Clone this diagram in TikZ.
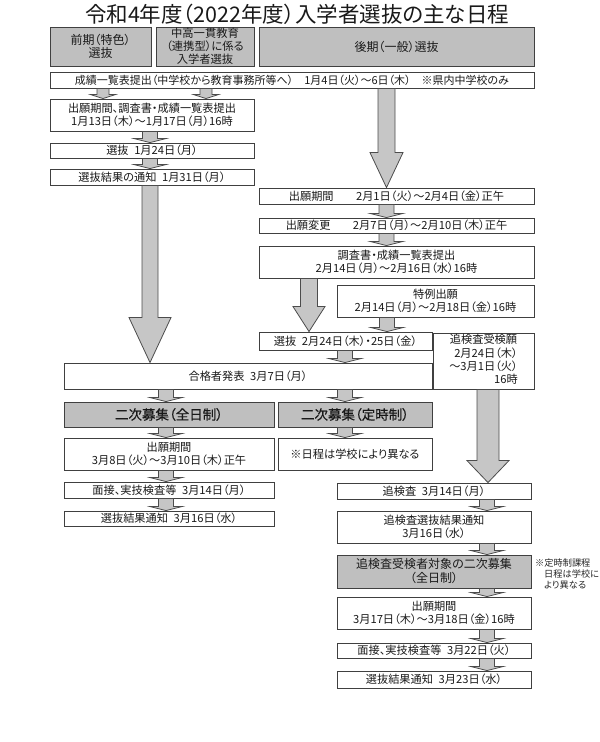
\documentclass[tikz,border=0pt]{standalone}
\usepackage{fontspec}
\setmainfont[RawFeature=+palt]{Noto Sans CJK JP}
\newfontfamily\heavyjp[RawFeature=+palt,FakeBold=0.4]{Noto Sans CJK JP}
\usetikzlibrary{calc}
\tikzset{
  plainbox/.style={draw=black!75, line width=0.9pt, fill=white, inner sep=0pt, align=center,
    text=black!90, font=\fontsize{11.2}{13}\selectfont},
  graybox/.style={plainbox, fill=gray!50},
  headbox/.style={graybox, font=\fontsize{12}{13.5}\selectfont},
  bigbox/.style={graybox, font=\heavyjp\fontsize{13.5}{15}\selectfont},
  blk/.style={draw=black!70, line width=0.8pt, fill=gray!45, line join=miter},
}
\newcommand\mkbox[7]{\node[#6, minimum width={#4pt-#2pt}, minimum height={#5pt-#3pt}] (#1) at ({(#2+#4)/2},{(#3+#5)/2}) {#7};}
% #1 from, #2 to, #3 x, #4 stem half, #5 head half, #6 head depth
\newcommand\flowarrow[6]{%
  \draw[blk] let \p1=(#1.south), \p2=(#2.north) in
   (#3pt-#4pt,\y1) -- (#3pt+#4pt,\y1) -- (#3pt+#4pt,\y2+#6pt) -- (#3pt+#5pt,\y2+#6pt)
   -- (#3pt,\y2) -- (#3pt-#5pt,\y2+#6pt) -- (#3pt-#4pt,\y2+#6pt) -- cycle;}
\begin{document}
\begin{tikzpicture}[x=1pt,y=-1pt]
\useasboundingbox (0,0) rectangle (600,742);
\node[font=\fontsize{21.5}{24}\selectfont, text=black!90] (title) at (297,14) {令和4年度（2022年度）入学者選抜の主な日程};
% headers
\mkbox{h1}{50}{27}{151}{66}{headbox}{前期（特色）\\選抜}
\mkbox{h2}{156}{27}{254}{66}{headbox, font=\fontsize{11.3}{13}\selectfont}{中高一貫教育\\（連携型）に係る\\入学者選抜}
\mkbox{h3}{259}{27}{534}{66}{headbox}{後期（一般）選抜}
\mkbox{r1}{50}{72}{534}{88}{plainbox, font=\fontsize{11}{12}\selectfont}{成績一覧表提出（中学校から教育事務所等へ）\quad 1月4日（火）～6日（木）\quad ※県内中学校のみ}
% left column (early)
\mkbox{a1}{50}{99}{254}{131}{plainbox}{出願期間、調査書・成績一覧表提出\\1月13日（木）～1月17日（月）16時}
\mkbox{a2}{50}{143}{254}{158}{plainbox}{選抜\enspace 1月24日（月）}
\mkbox{a3}{50}{169}{254}{185}{plainbox}{選抜結果の通知\enspace 1月31日（月）}
% right column (general)
\mkbox{b1}{259}{188}{534}{204}{plainbox}{出願期間\qquad 2月1日（火）～2月4日（金）正午}
\mkbox{b2}{259}{218}{534}{233}{plainbox}{出願変更\qquad 2月7日（月）～2月10日（木）正午}
\mkbox{b3}{259}{246}{534}{278}{plainbox}{調査書・成績一覧表提出\\2月14日（月）～2月16日（水）16時}
\mkbox{b4}{337}{285}{534}{317}{plainbox}{特例出願\\2月14日（月）～2月18日（金）16時}
\mkbox{b5}{259}{332}{432}{350}{plainbox}{選抜\enspace 2月24日（木）・25日（金）}
\mkbox{b6}{433}{333}{534}{389}{plainbox}{\begin{tabular}{@{}r@{}}\multicolumn{1}{@{}c@{}}{追検査受検願}\\2月24日（木）\\～3月1日（火）\\16時\end{tabular}}
% results
\mkbox{c1}{64}{363}{432}{389}{plainbox}{合格者発表\enspace 3月7日（月）}
\mkbox{c2}{64}{402}{274}{427}{bigbox}{二次募集（全日制）}
\mkbox{c3}{278}{402}{432}{427}{bigbox}{二次募集（定時制）}
\mkbox{c4}{64}{438}{274}{470}{plainbox}{出願期間\\3月8日（火）～3月10日（木）正午}
\mkbox{c5}{278}{438}{432}{470}{plainbox}{※日程は学校により異なる}
\mkbox{c6}{64}{482}{274}{498}{plainbox}{面接、実技検査等\enspace 3月14日（月）}
\mkbox{c7}{64}{511}{274}{526}{plainbox}{選抜結果通知\enspace 3月16日（水）}
% supplementary exam
\mkbox{d1}{337}{483}{531}{499}{plainbox}{追検査\enspace 3月14日（月）}
\mkbox{d2}{337}{511}{531}{543}{plainbox}{追検査選抜結果通知\\3月16日（水）}
\mkbox{d3}{337}{555}{531}{588}{graybox, font=\fontsize{12}{14}\selectfont}{追検査受検者対象の二次募集\\（全日制）}
\mkbox{d4}{337}{597}{531}{629}{plainbox}{出願期間\\3月17日（木）～3月18日（金）16時}
\mkbox{d5}{337}{643}{531}{658}{plainbox}{面接、実技検査等\enspace 3月22日（火）}
\mkbox{d6}{337}{671}{531}{688}{plainbox}{選抜結果通知\enspace 3月23日（水）}
\node[font=\fontsize{9.2}{11}\selectfont, align=left, anchor=north west, inner sep=0pt, text=black!85] (note) at (535,559) {※定時制課程\\\hspace*{9pt}日程は学校に\\\hspace*{9pt}より異なる};
% arrows
\flowarrow{r1}{a1}{103}{6}{12.5}{4}
\flowarrow{r1}{a1}{206}{6}{12.5}{4}
\flowarrow{a1}{a2}{150}{7.5}{16}{4}
\flowarrow{a2}{a3}{150}{7.5}{16}{4}
\flowarrow{a3}{c1}{150}{8}{21}{45}
\flowarrow{r1}{b1}{386.5}{8.5}{16.5}{35}
\flowarrow{b1}{b2}{386.5}{7.5}{16}{4}
\flowarrow{b2}{b3}{386.5}{7.5}{16}{4}
\flowarrow{b3}{b5}{309}{8.5}{16}{25}
\flowarrow{b4}{b5}{387}{7.5}{16}{4}
\flowarrow{b5}{c1}{345}{7.5}{16}{4}
\flowarrow{c1}{c2}{166}{7.5}{16}{4}
\flowarrow{c1}{c3}{345}{7.5}{16}{4}
\flowarrow{c2}{c4}{166}{7.5}{16}{4}
\flowarrow{c4}{c6}{166}{7.5}{16}{4}
\flowarrow{c6}{c7}{166}{7.5}{16}{4}
\flowarrow{c3}{c5}{345}{7.5}{16}{4}
\flowarrow{b6}{d1}{488}{11}{21}{22}
\flowarrow{d1}{d2}{487}{7.5}{16}{4}
\flowarrow{d2}{d3}{487}{7.5}{16}{4}
\flowarrow{d3}{d4}{487}{7.5}{16}{4}
\flowarrow{d4}{d5}{487}{7.5}{16}{4}
\flowarrow{d5}{d6}{487}{7.5}{16}{4}
\end{tikzpicture}
\end{document}
